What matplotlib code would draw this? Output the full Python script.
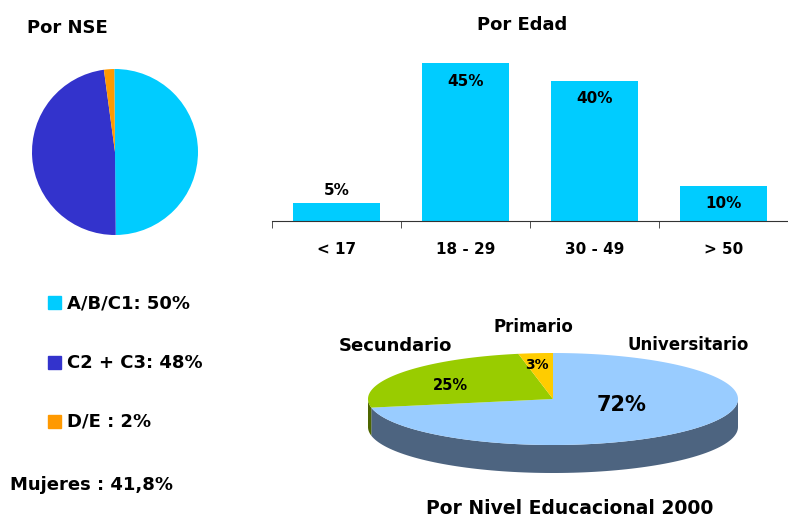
import numpy as np
import matplotlib
matplotlib.use("Agg")
import matplotlib.pyplot as plt
from matplotlib.patches import Rectangle

plt.rcParams['font.family'] = ['DejaVu Sans']
plt.rcParams['font.weight'] = 'bold'

# data
nse_labels = ["A/B/C1", "C2 + C3", "D/E "]
nse_values = [50, 48, 2]
nse_colors = ["#00CCFF", "#3333CC", "#FF9900"]

edad_labels = ["< 17", "18 - 29", "30 - 49", "> 50"]
edad_values = [5, 45, 40, 10]

edu_labels = ["Universitario", "Secundario", "Primario"]
edu_values = [72, 25, 3]
edu_top = ["#99CCFF", "#99CC00", "#FFCC00"]
edu_side = ["#4D6480", "#4D6600", "#806600"]

mujeres = "41,8%"

W, H = 788, 519
fig = plt.figure(figsize=(W / 100, H / 100), dpi=100)

def px_axes(x0, y0, x1, y1):
    return fig.add_axes([x0 / W, 1 - y1 / H, (x1 - x0) / W, (y1 - y0) / H])

# --- Por NSE pie
ax_pie = px_axes(32, 69, 198, 235)
ax_pie.pie(nse_values, colors=nse_colors, startangle=90.5, counterclock=False,
           wedgeprops=dict(linewidth=0))
ax_pie.set_xlim(-1, 1)
ax_pie.set_ylim(-1, 1)
ax_pie.axis('off')

# --- Por Edad bars
ax_bar = px_axes(272, 50, 788, 221)
x = np.arange(len(edad_values))
ax_bar.bar(x, edad_values, width=0.68, color="#00CCFF")
ax_bar.set_xlim(-0.5, -0.5 + 516 / 130)
ax_bar.set_ylim(0, 171 / 3.51)
for s in ['top', 'right', 'left']:
    ax_bar.spines[s].set_visible(False)
ax_bar.spines['bottom'].set_color('#333333')
ax_bar.set_yticks([])
ax_bar.set_xticks(x)
ax_bar.set_xticklabels(edad_labels, fontsize=11, fontweight='bold')
ax_bar.tick_params(axis='x', which='major', length=0, pad=15)
ax_bar.set_xticks(np.arange(len(edad_values) + 1) - 0.5, minor=True)
ax_bar.tick_params(axis='x', which='minor', length=5, direction='out', color='#333333')
for xi, v in zip(x, edad_values):
    if v < 8:
        ax_bar.annotate(f"{v}%", (xi, v), xytext=(0, 4), textcoords='offset points',
                        ha='center', va='bottom', fontsize=11, fontweight='bold')
    else:
        ax_bar.annotate(f"{v}%", (xi, v), xytext=(0, -13), textcoords='offset points',
                        ha='center', va='center', fontsize=11, fontweight='bold')

# --- overlay in pixel coordinates
ov = fig.add_axes([0, 0, 1, 1], zorder=-1)
ov.set_xlim(0, W)
ov.set_ylim(H, 0)
ov.axis('off')

ov.text(27, 28, "Por NSE", fontsize=13, fontweight='bold', va='center', ha='left')
ov.text(522, 25, "Por Edad", fontsize=13, fontweight='bold', va='center', ha='center')

# legend
rows_y = [303, 363, 422]
for yy, lab, val, col in zip(rows_y, nse_labels, nse_values, nse_colors):
    ov.add_patch(Rectangle((48, yy - 7), 13, 13, color=col))
    ov.text(67, yy, f"{lab}: {val}%", fontsize=13, fontweight='bold', va='center', ha='left')
ov.text(10, 485, f"Mujeres : {mujeres}", fontsize=13, fontweight='bold', va='center', ha='left')

# --- Por Nivel Educacional 3D pie
cx, cy, rx, ry, depth = 553, 399, 185, 46, 28
fr = np.cumsum([0] + edu_values) / 100.0
starts = 90 - 360 * fr[:-1]
ends = 90 - 360 * fr[1:]

def pt(a, dy=0):
    r = np.radians(a)
    return cx + rx * np.cos(r), cy - ry * np.sin(r) + dy

# sides, only the front half (angles -180..0) shows
for s, e, col in zip(starts, ends, edu_side):
    for off in (0, 360, -360):
        lo = max(e + off, -180)
        hi = min(s + off, 0)
        if hi <= lo:
            continue
        ang = np.linspace(lo, hi, 100)
        xs, ys = pt(ang)
        xb, yb = pt(ang[::-1], depth)
        ov.fill(np.r_[xs, xb], np.r_[ys, yb], color=col, lw=0)

# top face
for s, e, col in zip(starts, ends, edu_top):
    ang = np.linspace(s, e, 200)
    xs, ys = pt(ang)
    ov.fill(np.r_[cx, xs], np.r_[cy, ys], color=col, lw=0)

# labels
ov.text(622, 405, f"{edu_values[0]}%", fontsize=15, fontweight='bold', ha='center', va='center')
ov.text(450, 385, f"{edu_values[1]}%", fontsize=10.5, fontweight='bold', ha='center', va='center')
ov.text(537, 365, f"{edu_values[2]}%", fontsize=10, fontweight='bold', ha='center', va='center')
ov.text(688, 345, edu_labels[0], fontsize=12, fontweight='bold', ha='center', va='center')
ov.text(395, 346, edu_labels[1], fontsize=13, fontweight='bold', ha='center', va='center')
ov.text(533, 327, edu_labels[2], fontsize=12, fontweight='bold', ha='center', va='center')
ov.text(570, 509, "Por Nivel Educacional 2000", fontsize=13.5, fontweight='bold', ha='center', va='center')

fig.savefig("out.png", dpi=100)
